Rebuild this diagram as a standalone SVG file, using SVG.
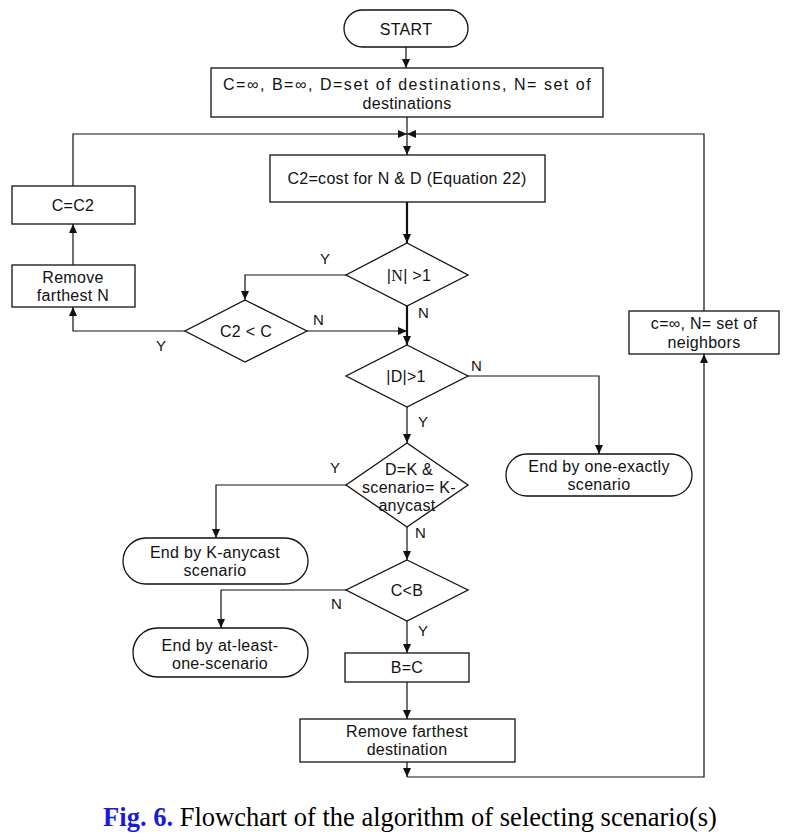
<svg xmlns="http://www.w3.org/2000/svg" width="799" height="840" viewBox="0 0 799 840">
<style>
.s{fill:#fff;stroke:#111;stroke-width:1.3}
.t{font-family:"Liberation Sans",Arial,sans-serif;font-size:16px;letter-spacing:0.3px;fill:#111;text-anchor:middle}
.l{font-family:"Liberation Sans",Arial,sans-serif;font-size:15px;fill:#111}
.c{fill:none;stroke:#111;stroke-width:1.2}
.k{stroke-width:2.2}
</style>
<defs>
<marker id="a" markerUnits="userSpaceOnUse" markerWidth="9" markerHeight="8" refX="9" refY="4" orient="auto"><path d="M0,0 L9,4 L0,8 z" fill="#111"/></marker>
</defs>
<rect width="799" height="840" fill="#fff"/>
<g id="connectors" marker-end="url(#a)">
<path class="c" d="M406,47 V68"/>
<path class="c" d="M407,117 V155"/>
<path class="c" d="M73,186 V134 H407"/>
<path class="c" d="M704,311 V134 H407"/>
<path class="c k" d="M407,202 V243"/>
<path class="c" d="M347,275 H245 V300"/>
<path class="c" d="M307,331 H407"/>
<path class="c" d="M185,331 H73 V307"/>
<path class="c" d="M73,265 V224"/>
<path class="c k" d="M407,306 V345"/>
<path class="c" d="M468,376 H599 V454"/>
<path class="c" d="M407,407 V443"/>
<path class="c" d="M346,485 H216 V538"/>
<path class="c" d="M407,527 V560"/>
<path class="c" d="M346,590 H221 V628"/>
<path class="c" d="M407,621 V653"/>
<path class="c" d="M407,682 V719"/>
<path class="c" d="M407,762 V777"/>
<path class="c" d="M407,777 H704 V354"/>
</g>
<g id="start"><rect class="s" x="344" y="10" width="124" height="37" rx="18.5"/><text class="t" x="406" y="35">START</text></g>
<g id="init"><rect class="s" x="211" y="68" width="392" height="49"/><text class="t" x="407" y="90" textLength="368" lengthAdjust="spacing">C=∞, B=∞, D=set of destinations, N= set of</text><text class="t" x="407" y="109">destinations</text></g>
<g id="cost"><rect class="s" x="270" y="155" width="275" height="47"/><text class="t" x="407" y="184">C2=cost for N &amp; D (Equation 22)</text></g>
<g id="cc2"><rect class="s" x="12" y="186" width="123" height="38"/><text class="t" x="73" y="211">C=C2</text></g>
<g id="removeN"><rect class="s" x="12" y="265" width="123" height="42"/><text class="t" x="73" y="283">Remove</text><text class="t" x="73" y="301">farthest N</text></g>
<g id="dN"><path class="s" d="M407,243 L468,275 L407,306 L346,275 z"/><text class="t" x="409" y="281">|<tspan font-family="Liberation Serif">N</tspan>| &gt;1</text></g>
<g id="dC2"><path class="s" d="M245,300 L307,331 L245,362 L185,331 z"/><text class="t" x="246" y="337">C2 &lt; C</text></g>
<g id="dD"><path class="s" d="M407,345 L468,376 L407,407 L346,376 z"/><text class="t" x="406" y="382">|D|&gt;1</text></g>
<g id="dK"><path class="s" d="M407,443 L468,485 L407,527 L346,485 z"/><text class="t" x="409" y="475">D=K &amp;</text><text class="t" x="409" y="493">scenario= K-</text><text class="t" x="407" y="511">anycast</text></g>
<g id="dB"><path class="s" d="M407,560 L468,590 L407,621 L346,590 z"/><text class="t" x="407" y="596">C&lt;B</text></g>
<g id="bc"><rect class="s" x="345" y="653" width="124" height="29"/><text class="t" x="407" y="673">B=C</text></g>
<g id="removeD"><rect class="s" x="300" y="719" width="215" height="43"/><text class="t" x="407" y="737">Remove farthest</text><text class="t" x="407" y="755">destination</text></g>
<g id="neigh"><rect class="s" x="629" y="311" width="150" height="43"/><text class="t" x="704" y="329">c=∞, N= set of</text><text class="t" x="704" y="348">neighbors</text></g>
<g id="endOne"><rect class="s" x="506" y="454" width="186" height="42" rx="21"/><text class="t" x="599" y="472">End by one-exactly</text><text class="t" x="599" y="490">scenario</text></g>
<g id="endK"><rect class="s" x="123" y="538" width="185" height="46" rx="23"/><text class="t" x="215" y="558">End by K-anycast</text><text class="t" x="215" y="576">scenario</text></g>
<g id="endAL"><rect class="s" x="133" y="628" width="175" height="49" rx="24.5"/><text class="t" x="220" y="651">End by at-least-</text><text class="t" x="220" y="669">one-scenario</text></g>
<g id="labels">
<text class="l" x="320" y="264">Y</text>
<text class="l" x="418" y="318">N</text>
<text class="l" x="313" y="325">N</text>
<text class="l" x="156" y="351">Y</text>
<text class="l" x="471" y="371">N</text>
<text class="l" x="418" y="427">Y</text>
<text class="l" x="330" y="473">Y</text>
<text class="l" x="415" y="538">N</text>
<text class="l" x="331" y="609">N</text>
<text class="l" x="418" y="636">Y</text>
</g>
<text x="410" y="826" font-family="Liberation Serif,'Times New Roman',serif" font-size="26.5" text-anchor="middle" fill="#000"><tspan fill="#1a1adc" font-weight="bold">Fig. 6.</tspan> Flowchart of the algorithm of selecting scenario(s)</text>
</svg>
